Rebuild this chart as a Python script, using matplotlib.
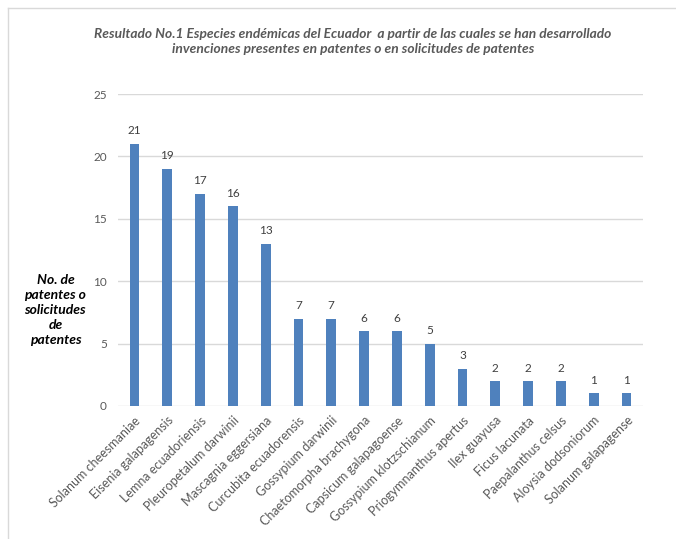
import matplotlib
matplotlib.use('Agg')
from matplotlib import pyplot as plt
from matplotlib.lines import Line2D

plt.rcParams['font.family'] = ['Lato', 'DejaVu Sans']

# datos
especies = ['Solanum cheesmaniae', 'Eisenia galapagensis', 'Lemna ecuadoriensis',
            'Pleuropetalum darwinii', 'Mascagnia eggersiana', 'Curcubita ecuadorensis',
            'Gossypium darwinii', 'Chaetomorpha brachygona', 'Capsicum galapagoense',
            'Gossypium klotzschianum', 'Priogymnanthus apertus', 'Ilex guayusa',
            'Ficus lacunata', 'Paepalanthus celsus', 'Aloysia dodsoniorum',
            'Solanum galapagense']
patentes = [21, 19, 17, 16, 13, 7, 7, 6, 6, 5, 3, 2, 2, 2, 1, 1]
yticks = [0, 5, 10, 15, 20, 25]

fig = plt.figure(figsize=(6.76, 5.39), dpi=100)
ax = fig.add_axes([0.1746, 0.2468, 0.7764, 0.5788])

x = range(len(especies))
bars = ax.bar(x, patentes, width=0.3, color='#4F81BD', zorder=3)
for xi, v in zip(x, patentes):
    ax.text(xi, v + 0.6, str(v), ha='center', va='bottom', fontsize=8.5, color='#404040')

ax.set_xlim(-0.5, len(especies) - 0.5)
ax.set_ylim(0, 25)
ax.set_yticks(yticks)
ax.set_yticklabels([str(t) for t in yticks], fontsize=8.5, color='#595959')
ax.set_xticks(list(x))
ax.set_xticklabels(especies, rotation=45, ha='right', rotation_mode='anchor',
                   fontsize=9, color='#595959')
ax.tick_params(axis='both', length=0, pad=8)
ax.tick_params(axis='x', pad=6)
ax.grid(axis='y', color='#D9D9D9', linewidth=1, zorder=0)
for s in ax.spines.values():
    s.set_visible(False)

fig.text(0.522, 0.923, 'Resultado No.1 Especies endémicas del Ecuador  a partir de las cuales se han desarrollado\n'
         'invenciones presentes en patentes o en solicitudes de patentes',
         ha='center', va='center', fontsize=9.9, fontweight='bold', fontstyle='italic',
         color='#595959', linespacing=1.25)

fig.text(0.082, 0.425, 'No. de\npatentes o\nsolicitudes\nde\npatentes', ha='center', va='center',
         fontsize=10, fontweight='bold', fontstyle='italic', color='black', linespacing=1.3)

# marco
fig.add_artist(Line2D([8 / 676, 1], [1 - 8 / 539, 1 - 8 / 539], color='#D9D9D9', linewidth=1))
fig.add_artist(Line2D([8 / 676, 8 / 676], [0, 1 - 8 / 539], color='#D9D9D9', linewidth=1))

fig.savefig('out.png', dpi=100)
